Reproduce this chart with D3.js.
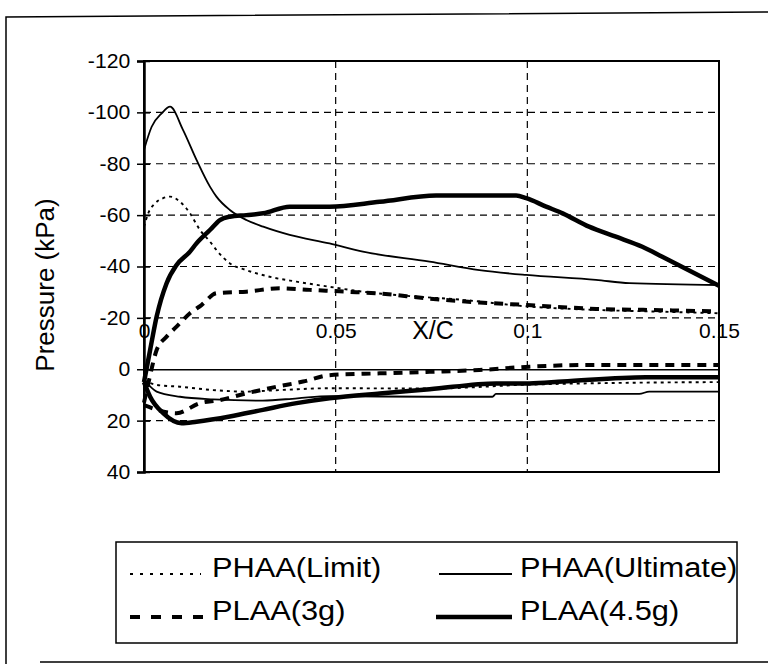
<!DOCTYPE html>
<html>
<head>
<meta charset="utf-8">
<script src="https://cdn.jsdelivr.net/npm/d3@7"></script>
<style>
  body { margin: 0; background: #fff; }
  svg { display: block; }
  text { font-family: "Liberation Sans", Arial, sans-serif; fill: #000; }
</style>
</head>
<body>
<script>
// Chordwise pressure distributions (x/c vs pressure, kPa; suction plotted upward)

// PHAA (Limit)
const limitUpperX = [0, 0.0011, 0.0029, 0.005, 0.0068, 0.0094, 0.012, 0.0146, 0.0172, 0.0189, 0.0224, 0.0267, 0.0328, 0.0398, 0.0484, 0.0571, 0.0658, 0.0832, 0.1005, 0.1179, 0.1352, 0.15];
const limitUpperP = [-55.5, -60.7, -64.6, -66.6, -67.2, -65.2, -60.7, -54.2, -49.7, -46.4, -41.2, -38.6, -36, -34.1, -32.1, -30.2, -28.9, -27, -24.4, -23.1, -22.4, -21.8];
const limitLowerX = [0, 0.0033, 0.0094, 0.018, 0.0267, 0.0354, 0.0484, 0.075, 0.1, 0.125, 0.15];
const limitLowerP = [4.3, 6.1, 6.8, 8.1, 8.7, 8.1, 7.4, 7.5, 6, 5.3, 5];

// PHAA (Ultimate)
const ultUpperX = [0, 0.002, 0.0046, 0.0068, 0.0102, 0.0137, 0.0172, 0.0189, 0.0224, 0.0267, 0.0311, 0.038, 0.0484, 0.0571, 0.0745, 0.0875, 0.0997, 0.1179, 0.1266, 0.15];
const ultUpperP = [-85.4, -94.4, -99.6, -102.2, -93.1, -81.5, -71.1, -67.2, -62, -58.1, -55.5, -52.3, -49, -45.8, -41.9, -38.6, -36.7, -34.8, -33.5, -32.8];
const ultLowerX = [0, 0.0033, 0.0094, 0.018, 0.031, 0.04, 0.0484, 0.0745, 0.0909, 0.0918, 0.1292, 0.1318, 0.15];
const ultLowerP = [4, 8.7, 10.7, 11.7, 12.2, 11.3, 10.5, 10.7, 10.7, 9.6, 9.6, 8.7, 8.7];

// PLAA (3g)
const g3UpperX = [0, 0.0015, 0.0033, 0.0059, 0.0085, 0.012, 0.015, 0.0189, 0.0267, 0.0354, 0.0432, 0.0528, 0.0606, 0.0745, 0.0875, 0.1, 0.118, 0.135, 0.15];
const g3UpperP = [13, 3, -7.5, -12.7, -16.6, -21.8, -25, -29.6, -30.2, -31.5, -30.9, -30.2, -29.6, -27.5, -26, -25, -23.5, -23, -22.5];
const g3LowerX = [0, 0.0085, 0.0146, 0.0198, 0.025, 0.0346, 0.0415, 0.0484, 0.0615, 0.0745, 0.0875, 0.1005, 0.1179, 0.1352, 0.15];
const g3LowerP = [14, 17.1, 13.2, 12, 10, 6.8, 4.8, 2.3, 1.6, 1, 0.3, -1, -1.7, -1.7, -1.7];

// PLAA (4.5g)
const g45UpperX = [0, 0.0016, 0.0033, 0.0059, 0.0085, 0.012, 0.0137, 0.0172, 0.0198, 0.0224, 0.0267, 0.0311, 0.038, 0.0484, 0.0615, 0.0762, 0.0971, 0.0997, 0.1049, 0.1092, 0.1161, 0.1231, 0.13, 0.1352, 0.15];
const g45UpperP = [5, -7.5, -20.5, -33.5, -40.6, -45.8, -49, -54.2, -58.1, -59.4, -60, -60.7, -63.3, -63.3, -65.2, -67.6, -67.6, -66.6, -63.3, -60.7, -55.5, -51.6, -47.7, -43.8, -32.5];
const g45LowerX = [0, 0.0016, 0.005, 0.0098, 0.0137, 0.0224, 0.031, 0.0398, 0.0484, 0.0615, 0.0745, 0.0919, 0.1005, 0.1092, 0.1309, 0.15];
const g45LowerP = [5, 10.7, 17.1, 21, 20.4, 18.4, 15.8, 13.2, 11.3, 9.4, 7.8, 5.5, 5.5, 4.8, 3.1, 3.1];

// Axis ticks and labels
const yTicks = [-120, -100, -80, -60, -40, -20, 0, 20, 40];
const xTicks = [0, 0.05, 0.1, 0.15];
const xTickLabels = ["0", "0.05", "0.1", "0.15"];
const seriesNames = ["PHAA(Limit)", "PHAA(Ultimate)", "PLAA(3g)", "PLAA(4.5g)"];

const W = 768, H = 668;
const svg = d3.select("body").append("svg").attr("width", W).attr("height", H);

const x = d3.scaleLinear().domain([0, 0.15]).range([144, 719]);
const y = d3.scaleLinear().domain([-120, 40]).range([61, 472]);

// Outer chart frame (open at the right)
svg.append("path")
  .attr("d", "M6,664 L6,17 L768,12 M40,662 L768,662")
  .attr("fill", "none").attr("stroke", "#000").attr("stroke-width", 1.5);

// Dashed gridlines
const gridY = yTicks.filter(v => v !== 0 && v !== -120 && v !== 40);
svg.append("g").selectAll("line").data(gridY).join("line")
  .attr("x1", x(0)).attr("x2", x(0.15))
  .attr("y1", d => y(d)).attr("y2", d => y(d))
  .attr("stroke", "#000").attr("stroke-width", 1.2).attr("stroke-dasharray", "7,5");
svg.append("g").selectAll("line").data([0.05, 0.1]).join("line")
  .attr("x1", d => x(d)).attr("x2", d => x(d))
  .attr("y1", y(-120)).attr("y2", y(40))
  .attr("stroke", "#000").attr("stroke-width", 1.2).attr("stroke-dasharray", "7,5");

// Plot border
svg.append("rect")
  .attr("x", x(0)).attr("y", y(-120))
  .attr("width", x(0.15) - x(0)).attr("height", y(40) - y(-120))
  .attr("fill", "none").attr("stroke", "#000").attr("stroke-width", 2);

// Y axis with cross tick marks
const yAxis = svg.append("g").attr("transform", `translate(${x(0)},0)`)
  .call(d3.axisLeft(y).tickValues(yTicks).tickSize(7).tickPadding(6).tickFormat(d => String(d)));
yAxis.select(".domain").attr("stroke-width", 2.5);
yAxis.selectAll(".tick line").attr("x1", 6).attr("x2", -7).attr("stroke-width", 1.5);
yAxis.selectAll(".tick text").attr("font-size", 20)
  .attr("font-family", "Liberation Sans, Arial, sans-serif")
  .attr("transform", "scale(1.06,1)");

// X axis along zero pressure, labels above the line
const xAxis = svg.append("g").attr("transform", `translate(0,${y(0)})`)
  .call(d3.axisTop(x).tickValues(xTicks).tickSize(0).tickPadding(31)
    .tickFormat((d, i) => xTickLabels[i]));
xAxis.select(".domain").attr("stroke-width", 1.3);
xAxis.selectAll(".tick text").attr("font-size", 21).attr("font-family", "Liberation Sans, Arial, sans-serif");

svg.append("text").attr("x", 433).attr("y", 339).attr("text-anchor", "middle")
  .attr("font-size", 25).text("X/C");

svg.append("text").attr("transform", "translate(54,285) rotate(-90)")
  .attr("text-anchor", "middle").attr("font-size", 26).text("Pressure (kPa)");

// Curves
const line = d3.line().x(d => x(d[0])).y(d => y(d[1])).curve(d3.curveMonotoneX);
const styles = [
  { width: 1.9, dash: "3,4" },
  { width: 1.8, dash: null },
  { width: 4, dash: "9,7" },
  { width: 4.5, dash: null }
];
const curves = [
  { s: 0, xs: limitUpperX, ps: limitUpperP },
  { s: 0, xs: limitLowerX, ps: limitLowerP },
  { s: 1, xs: ultUpperX, ps: ultUpperP },
  { s: 1, xs: ultLowerX, ps: ultLowerP },
  { s: 2, xs: g3UpperX, ps: g3UpperP },
  { s: 2, xs: g3LowerX, ps: g3LowerP },
  { s: 3, xs: g45UpperX, ps: g45UpperP },
  { s: 3, xs: g45LowerX, ps: g45LowerP }
];
svg.append("g").selectAll("path").data(curves).join("path")
  .attr("d", c => line(d3.zip(c.xs, c.ps)))
  .attr("fill", "none").attr("stroke", "#000")
  .attr("stroke-width", c => styles[c.s].width)
  .attr("stroke-dasharray", c => styles[c.s].dash)
  .attr("stroke-linejoin", "round");

// Legend
const lg = svg.append("g");
lg.append("rect").attr("x", 116).attr("y", 542).attr("width", 621).attr("height", 101)
  .attr("fill", "none").attr("stroke", "#000").attr("stroke-width", 1.5);
const legendItems = [
  { s: 0, sx: 130, ex: 201, tx: 212, row: 0, dash: "3,7" },
  { s: 1, sx: 439, ex: 512, tx: 520, row: 0, dash: null },
  { s: 2, sx: 130, ex: 204, tx: 212, row: 1, dash: "10,11" },
  { s: 3, sx: 436, ex: 512, tx: 520, row: 1, dash: null }
];
const rowBase = [577, 620];
legendItems.forEach(it => {
  lg.append("line")
    .attr("x1", it.sx).attr("x2", it.ex)
    .attr("y1", rowBase[it.row] - 3).attr("y2", rowBase[it.row] - 3)
    .attr("stroke", "#000").attr("stroke-width", styles[it.s].width)
    .attr("stroke-dasharray", it.dash);
  lg.append("text")
    .attr("transform", `translate(${it.tx},${rowBase[it.row]}) scale(1.1,1)`)
    .attr("font-size", 28).text(seriesNames[it.s]);
});
</script>
</body>
</html>
